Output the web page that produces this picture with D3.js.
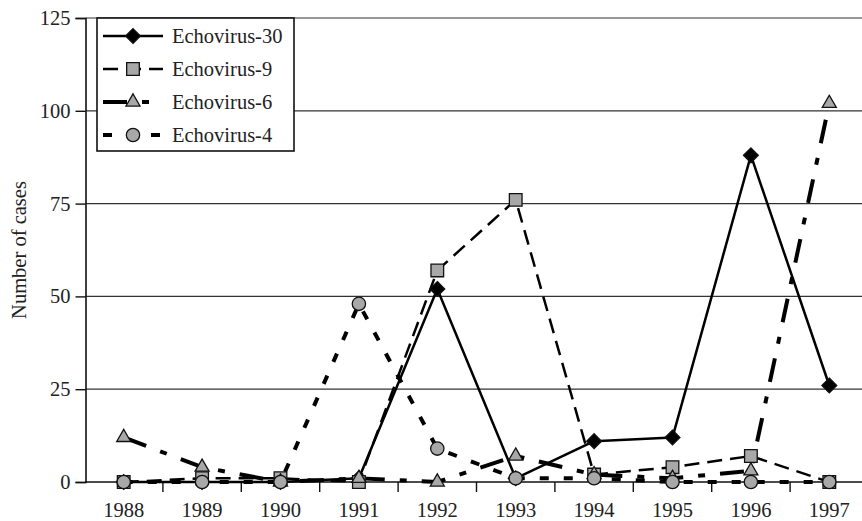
<!DOCTYPE html>
<html><head><meta charset="utf-8">
<script src="https://cdn.jsdelivr.net/npm/d3@7/dist/d3.min.js"></script>
<style>
html,body{margin:0;padding:0;background:#fff;}
svg text{font-family:"Liberation Serif","Times New Roman",serif;fill:#222;}
</style></head>
<body>
<svg id="c" width="862" height="521"></svg>
<script>
const years = ["1988","1989","1990","1991","1992","1993","1994","1995","1996","1997"];
const echo30 = [0, 0, 0, 1, 52, 1, 11, 12, 88, 26];
const echo9  = [0, 1, 1, 0, 57, 76, 2, 4, 7, 0];
const echo6  = [12, 4, 0, 1, 0, 7, 2, 1, 3, 102];
const echo4  = [0, 0, 0, 48, 9, 1, 1, 0, 0, 0];
const seriesNames = ["Echovirus-30","Echovirus-9","Echovirus-6","Echovirus-4"];
const yTicks = [0, 25, 50, 75, 100, 125];
const yTitle = "Number of cases";

const series = [
  {name: seriesNames[0], values: echo30, dash: null, width: 2.5, marker: "diamond", fill: "#000"},
  {name: seriesNames[1], values: echo9, dash: "15,8", width: 2.5, marker: "square", fill: "#a8a8a8"},
  {name: seriesNames[2], values: echo6, dash: "24,15,7,15", width: 4, marker: "triangle", fill: "#a8a8a8"},
  {name: seriesNames[3], values: echo4, dash: "9,15", width: 4, marker: "circle", fill: "#a8a8a8"}
];

const svg = d3.select("#c");
const x = d3.scaleBand().domain(years).range([84.5, 868.5]).padding(0);
const cx = d => x(d) + x.bandwidth()/2;
const y = d3.scaleLinear().domain([0,125]).range([482,18]);
const axisX = 85.5;

// gridlines
svg.append("g").selectAll("line").data(yTicks.filter(t=>t>0)).join("line")
  .attr("x1", axisX).attr("x2", 862).attr("y1", d=>y(d)).attr("y2", d=>y(d))
  .attr("stroke", "#333").attr("stroke-width", 1.2);

// y axis
const yAxis = svg.append("g").attr("transform", `translate(${axisX},0)`)
  .call(d3.axisLeft(y).tickValues(yTicks).tickSize(10).tickPadding(5));
yAxis.select(".domain").attr("stroke","#111").attr("stroke-width",1.6);
yAxis.selectAll(".tick line").attr("stroke","#111").attr("stroke-width",1.4);
yAxis.selectAll(".tick text").style("font-size","20.5px").style("font-family","Liberation Serif").attr("fill","#222");

// x axis line
svg.append("line").attr("x1", axisX).attr("x2", 862).attr("y1", y(0)).attr("y2", y(0))
  .attr("stroke","#111").attr("stroke-width",1.6);
// x ticks at band boundaries
svg.append("g").selectAll("line").data(years.slice(1)).join("line")
  .attr("x1", d=>x(d)).attr("x2", d=>x(d)).attr("y1", y(0)).attr("y2", y(0)+10)
  .attr("stroke","#111").attr("stroke-width",1.4);
svg.append("g").selectAll("text").data(years).join("text")
  .attr("x", d=>cx(d)).attr("y", 517).attr("text-anchor","middle")
  .style("font-size","20.5px").text(d=>d);

// y title
svg.append("text").attr("transform","translate(26,250) rotate(-90)")
  .attr("text-anchor","middle").style("font-size","20.5px").text(yTitle);

// marker drawing
function drawMarker(g, type, fill) {
  let sym;
  if (type === "diamond") sym = d3.symbol().type(d3.symbolDiamond2).size(140);
  else if (type === "square") sym = d3.symbol().type(d3.symbolSquare).size(160);
  else if (type === "triangle") sym = d3.symbol().type(d3.symbolTriangle).size(85);
  else sym = d3.symbol().type(d3.symbolCircle).size(140);
  g.append("path").attr("d", sym()).attr("fill", fill).attr("stroke", "#111").attr("stroke-width", 1.3);
}

const line = d3.line().x((d,i)=>cx(years[i])).y(d=>y(d));

// lines
series.forEach(s => {
  svg.append("path").datum(s.values).attr("d", line)
    .attr("fill","none").attr("stroke","#000").attr("stroke-width", s.width)
    .attr("stroke-dasharray", s.dash).attr("stroke-linejoin","round");
});
// markers
series.forEach(s => {
  s.values.forEach((v,i) => {
    const g = svg.append("g").attr("transform", `translate(${cx(years[i])},${y(v)})`);
    drawMarker(g, s.marker, s.fill);
  });
});

// legend
const lg = svg.append("g");
lg.append("rect").attr("x", 97).attr("y", 18).attr("width", 197).attr("height", 133)
  .attr("fill","#fff").attr("stroke","#111").attr("stroke-width",1.6);
const legY = [36, 69, 102, 135];
series.forEach((s,i) => {
  lg.append("line").attr("x1",103).attr("x2",163).attr("y1",legY[i]).attr("y2",legY[i])
    .attr("stroke","#000").attr("stroke-width", s.width).attr("stroke-dasharray", s.dash);
  const g = lg.append("g").attr("transform", `translate(133,${legY[i]})`);
  drawMarker(g, s.marker, s.fill);
  lg.append("text").attr("x", 172).attr("y", legY[i]+7).style("font-size","20.5px").text(s.name);
});
</script>
</body></html>
